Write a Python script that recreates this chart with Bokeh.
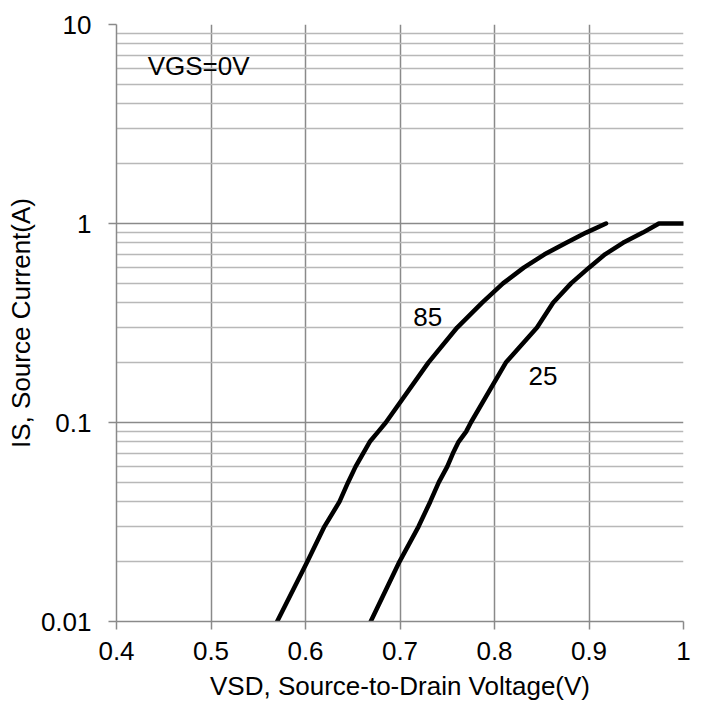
from bokeh.plotting import figure
from bokeh.models import FixedTicker, CustomJSTickFormatter, Label, Range1d
from bokeh.embed import file_html
from bokeh.resources import INLINE

# Data
v_85 = [0.570, 0.602, 0.620, 0.636, 0.645, 0.653, 0.661, 0.668, 0.677, 0.685,
        0.730, 0.7605, 0.787, 0.809, 0.831, 0.853, 0.876, 0.897, 0.918]
i_85 = [0.01, 0.02, 0.03, 0.04, 0.05, 0.06, 0.07, 0.08, 0.09, 0.1,
        0.2, 0.3, 0.4, 0.5, 0.6, 0.7, 0.8, 0.9, 1.0]

v_25 = [0.669, 0.6995, 0.7196, 0.732, 0.741, 0.750, 0.756, 0.762, 0.770, 0.775,
        0.812, 0.845, 0.862, 0.881, 0.900, 0.917, 0.936, 0.957, 0.974, 1.0]
i_25 = [0.01, 0.02, 0.03, 0.04, 0.05, 0.06, 0.07, 0.08, 0.09, 0.1,
        0.2, 0.3, 0.4, 0.5, 0.6, 0.7, 0.8, 0.9, 1.0, 1.0]

x_ticks = [0.4, 0.5, 0.6, 0.7, 0.8, 0.9, 1.0]
y_ticks = [0.01, 0.1, 1, 10]

curve_labels = ["85", "25"]
curve_label_v = [0.714, 0.836]
curve_label_i = [0.338, 0.172]

note_text = "VGS=0V"
note_v = 0.433
note_i = 6.2

x_title = "VSD, Source-to-Drain Voltage(V)"
y_title = "IS, Source Current(A)"

FONT = "Liberation Sans"
FS = "26px"
GRID = "#8a8a8a"
MINOR = "#b8b8b8"

p = figure(width=702, height=709, y_axis_type="log",
           x_range=Range1d(0.4, 1.0), y_range=Range1d(0.01, 10),
           output_backend="svg", toolbar_location=None,
           min_border_left=116, min_border_right=19,
           min_border_top=24, min_border_bottom=88)
p.outline_line_color = None
p.background_fill_color = "white"
p.border_fill_color = "white"

minor_y = [m * d for d in [0.01, 0.1, 1] for m in range(2, 10)]
p.xaxis.ticker = FixedTicker(ticks=x_ticks)
p.yaxis.ticker = FixedTicker(ticks=y_ticks, minor_ticks=minor_y)
fmt = CustomJSTickFormatter(code="return String(tick);")
p.xaxis.formatter = fmt
p.yaxis.formatter = fmt

for ax in (p.xaxis, p.yaxis):
    ax.axis_line_color = GRID
    ax.axis_line_width = 1.5
    ax.major_tick_line_color = GRID
    ax.major_tick_line_width = 1.5
    ax.major_tick_out = 8
    ax.major_tick_in = 0
    ax.minor_tick_line_color = None
    ax.major_label_text_font = FONT
    ax.major_label_text_font_size = FS
    ax.major_label_text_color = "black"
    ax.axis_label_text_font = FONT
    ax.axis_label_text_font_size = FS
    ax.axis_label_text_font_style = "normal"
    ax.axis_label_text_color = "black"

p.xaxis.axis_label = x_title
p.yaxis.axis_label = y_title
p.xaxis.major_label_standoff = 12
p.yaxis.major_label_standoff = 17
p.xaxis.axis_label_standoff = 8
p.yaxis.axis_label_standoff = 2

p.xgrid.grid_line_color = GRID
p.xgrid.grid_line_width = 1.5
p.ygrid.grid_line_color = GRID
p.ygrid.grid_line_width = 1.5
p.ygrid.minor_grid_line_color = MINOR
p.ygrid.minor_grid_line_width = 1.5

p.line(v_85, i_85, line_color="black", line_width=4.5, line_join="round", line_cap="round")
p.line(v_25, i_25, line_color="black", line_width=4.5, line_join="round", line_cap="round")

for t, xv, yv in zip(curve_labels, curve_label_v, curve_label_i):
    p.add_layout(Label(x=xv, y=yv, text=t, text_font=FONT, text_font_size=FS,
                       text_color="black", text_align="left", text_baseline="alphabetic"))

p.add_layout(Label(x=note_v, y=note_i, text=note_text, text_font=FONT, text_font_size=FS,
                   text_color="black", text_align="left", text_baseline="alphabetic"))

open("out.html", "w").write(file_html(p, INLINE))
